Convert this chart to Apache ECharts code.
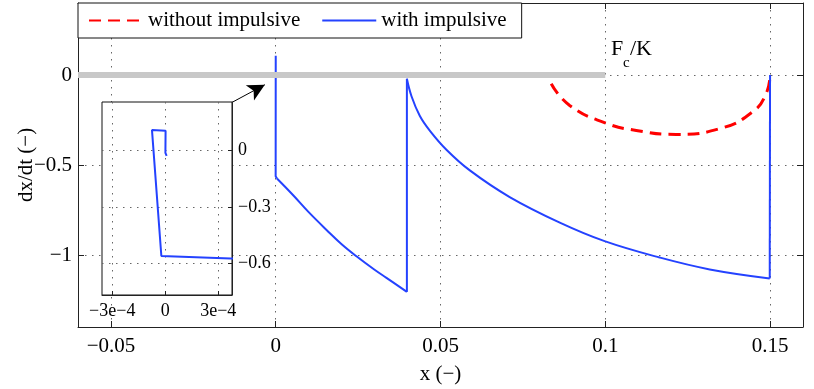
<!DOCTYPE html>
<html>
<head>
<meta charset="utf-8">
<script src="https://cdn.jsdelivr.net/npm/echarts@6/dist/echarts.min.js"></script>
<style>
html, body { margin: 0; padding: 0; background: #fff; }
#main { width: 814px; height: 389px; }
</style>
</head>
<body>
<div id="main"></div>
<script>
// tick values
const xTicks = [-0.05, 0, 0.05, 0.1, 0.15];
const yTicks = [-1, -0.5, 0];
const insetXTicks = [-3e-4, 0, 3e-4];
const insetYTicks = [-0.6, -0.3, 0];

// without impulsive (red dashed)
const withoutImpulsive = [
    [0.0836, -0.049], [0.0892, -0.169], [0.1003, -0.268], [0.1094, -0.308],
    [0.1215, -0.330], [0.1347, -0.298], [0.1446, -0.206], [0.1488, -0.104],
    [0.15, 0]
];

// with impulsive (blue), the first points are the detail shown in the inset
const withImpulsive = [
    [0.000008, -0.028], [0.000001, -0.012], [0.000002, 0.107], [-0.000075, 0.110],
    [-0.000022, -0.562], [0.00037, -0.575],
    [0.0053, -0.668], [0.01, -0.762], [0.0155, -0.862], [0.02, -0.94],
    [0.0245, -1.007], [0.03, -1.082], [0.0336, -1.127], [0.0398, -1.205],
    [0.0398, -0.021], [0.0412, -0.118], [0.0437, -0.226], [0.0468, -0.310],
    [0.0518, -0.415], [0.0589, -0.530], [0.071, -0.678], [0.0862, -0.820],
    [0.0998, -0.923], [0.1165, -1.014], [0.1317, -1.080], [0.1499, -1.130],
    [0.15, 0]
];
// pieces of withImpulsive: [first index, last index, smoothed]
const blueSegments = [[0, 5, false], [5, 13, true], [13, 14, false], [14, 25, true], [25, 26, false]];

// Fc/K level and the arrow from the inset
const fcOverK = [[-0.06, 0], [0.1, 0]];
const arrowFrom = [-0.0133, -0.1525];
const arrowTo = [-0.0033, -0.054];

const FONT = 'Liberation Serif';
const BLUE = '#2442ff';
const RED = '#ff0000';

const fmt = v => (v < 0 ? '\u2212' : '') + String(Math.abs(v));
const fmtE = v => v === 0 ? '0' : (v < 0 ? '\u2212' : '') + Math.round(Math.abs(v) / 1e-4) + 'e\u22124';

const dotted = { color: '#666', type: [1.5, 5.5], width: 1 };

function axis(opts) {
    return Object.assign({
        type: 'value',
        axisLine: { show: true, onZero: false, lineStyle: { color: '#222', width: 1 } },
        axisTick: { show: true, inside: true, length: 6, lineStyle: { color: '#222' } },
        axisLabel: { show: false },
        splitLine: { show: false }
    }, opts);
}

const blueSeries = blueSegments.map(([a, b, s]) => ({
    name: 'with impulsive', type: 'line', xAxisIndex: 0, yAxisIndex: 0,
    data: withImpulsive.slice(a, b + 1), symbol: 'none', smooth: s ? 0.4 : false,
    itemStyle: { color: BLUE },
    lineStyle: { color: BLUE, width: 2 },
    emphasis: { disabled: true }, z: 3
}));

const chart = echarts.init(document.getElementById('main'));

chart.setOption({
    animation: false,
    backgroundColor: '#fff',
    grid: [
        { left: 78, right: 11, top: 3, bottom: 62, outerBoundsMode: 'none', containLabel: false },
        { left: 102, top: 102, width: 130, height: 193, outerBoundsMode: 'none', containLabel: false,
          show: true, backgroundColor: '#fff', borderColor: '#111', borderWidth: 1, z: 4 }
    ],
    legend: {
        data: ['without impulsive', 'with impulsive'],
        left: 78, top: 3,
        itemWidth: 54, itemHeight: 14, itemGap: 21,
        padding: [7, 15, 7, 10],
        borderColor: '#111', borderWidth: 1, backgroundColor: '#fff',
        itemStyle: { opacity: 0 },
        textStyle: { fontFamily: FONT, fontSize: 21, color: '#000' },
        z: 10
    },
    xAxis: [
        axis({
            gridIndex: 0, position: 'bottom', min: -0.06, max: 0.16,
            axisTick: { show: true, inside: true, length: 6, customValues: xTicks, lineStyle: { color: '#222' } },
            axisLabel: { show: true, customValues: xTicks, formatter: fmt, margin: 9,
                         fontFamily: FONT, fontSize: 21, color: '#000' },
            splitLine: { show: true, lineStyle: dotted },
            name: 'x (\u2212)', nameLocation: 'middle', nameGap: 37, nameMoveOverlap: false,
            nameTextStyle: { fontFamily: FONT, fontSize: 21, color: '#000' }
        }),
        axis({
            gridIndex: 0, position: 'top', min: -0.06, max: 0.16,
            axisTick: { show: true, inside: true, length: 6, customValues: xTicks, lineStyle: { color: '#222' } }
        }),
        axis({
            gridIndex: 1, position: 'bottom', min: -3.58e-4, max: 3.78e-4, z: 5,
            axisTick: { show: true, inside: true, length: 4, customValues: insetXTicks, lineStyle: { color: '#222' } },
            axisLabel: { show: true, customValues: insetXTicks, formatter: fmtE, margin: 7,
                         fontFamily: FONT, fontSize: 18, color: '#000' },
            splitLine: { show: true, lineStyle: dotted }
        })
    ],
    yAxis: [
        axis({
            gridIndex: 0, position: 'left', min: -1.4, max: 0.4,
            axisTick: { show: true, inside: true, length: 6, customValues: yTicks, lineStyle: { color: '#222' } },
            axisLabel: { show: true, customValues: yTicks, formatter: fmt, margin: 6,
                         fontFamily: FONT, fontSize: 21, color: '#000' },
            splitLine: { show: true, lineStyle: dotted },
            name: 'dx/dt (\u2212)', nameLocation: 'middle', nameGap: 41, nameMoveOverlap: false,
            nameTextStyle: { fontFamily: FONT, fontSize: 21, color: '#000' }
        }),
        axis({
            gridIndex: 0, position: 'right', min: -1.4, max: 0.4,
            axisTick: { show: true, inside: true, length: 6, customValues: yTicks, lineStyle: { color: '#222' } }
        }),
        axis({
            gridIndex: 1, position: 'right', min: -0.77, max: 0.26, z: 5,
            axisTick: { show: true, inside: true, length: 4, customValues: insetYTicks, lineStyle: { color: '#222' } },
            axisLabel: { show: true, customValues: insetYTicks, formatter: fmt, margin: 6,
                         fontFamily: FONT, fontSize: 18, color: '#000' },
            splitLine: { show: true, lineStyle: dotted }
        })
    ],
    series: [
        {
            name: 'without impulsive', type: 'line', xAxisIndex: 0, yAxisIndex: 0,
            data: withoutImpulsive, symbol: 'none', smooth: 0.5,
            itemStyle: { color: RED },
            lineStyle: { color: RED, width: 3, type: [12, 7] },
            emphasis: { disabled: true }, z: 3
        },
        ...blueSeries,
        {
            name: 'Fc/K', type: 'line', xAxisIndex: 0, yAxisIndex: 0,
            data: fcOverK, symbol: 'none', silent: true,
            lineStyle: { color: '#c8c8c8', width: 6 },
            emphasis: { disabled: true }, z: 4,
            markLine: {
                silent: true, animation: false,
                symbol: ['none', 'arrow'], symbolSize: [13, 17],
                lineStyle: { color: '#000', width: 1, type: 'solid' },
                label: { show: false },
                data: [[{ coord: arrowFrom }, { coord: arrowTo }]]
            }
        },
        {
            name: 'with impulsive', type: 'line', xAxisIndex: 2, yAxisIndex: 2,
            data: withImpulsive, symbol: 'none', clip: true,
            itemStyle: { color: BLUE },
            lineStyle: { color: BLUE, width: 2 },
            emphasis: { disabled: true }, z: 6
        }
    ],
    graphic: [
        { type: 'text', x: 611, y: 49, style: { text: 'F', font: '22px "Liberation Serif"', fill: '#000', verticalAlign: 'middle' } },
        { type: 'text', x: 623, y: 63, style: { text: 'c', font: '15px "Liberation Serif"', fill: '#000', verticalAlign: 'middle' } },
        { type: 'text', x: 630, y: 49, style: { text: '/K', font: '22px "Liberation Serif"', fill: '#000', verticalAlign: 'middle' } }
    ]
});
</script>
</body>
</html>
